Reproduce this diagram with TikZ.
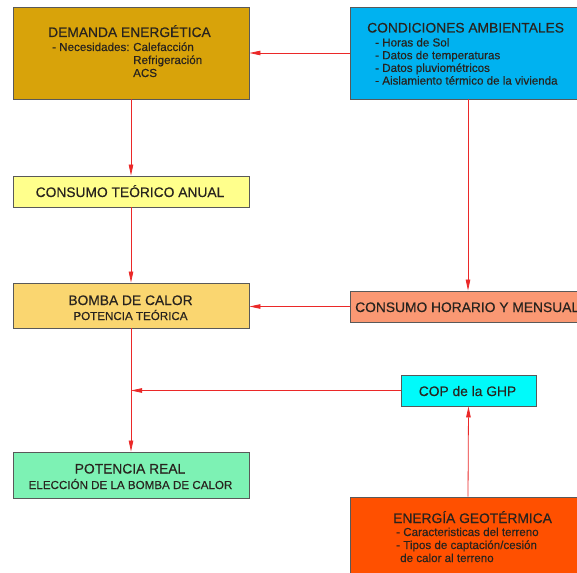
\documentclass[tikz,border=0pt]{standalone}
\usepackage{fontspec}
\setmainfont{Liberation Sans}[FakeBold=0.35]
\usetikzlibrary{arrows.meta,fit}
\definecolor{cdem}{RGB}{216,163,10}
\definecolor{ccond}{RGB}{0,178,240}
\definecolor{ccta}{RGB}{255,255,140}
\definecolor{cbomba}{RGB}{250,214,112}
\definecolor{cchm}{RGB}{250,152,115}
\definecolor{ccop}{RGB}{0,250,250}
\definecolor{cpreal}{RGB}{125,242,180}
\definecolor{cgeo}{RGB}{255,80,0}
\definecolor{cline}{RGB}{235,40,40}
\definecolor{ctext}{RGB}{40,35,30}
\tikzset{
  box/.style={draw=black!65, line width=0.9pt, inner sep=0pt},
  arr/.style={draw=cline, line width=0.8pt, -{Triangle[length=11pt,width=4.5pt]}},
  ttl/.style={inner sep=0pt, text=ctext, font=\fontsize{13.8}{16}\selectfont},
  sub/.style={inner sep=0pt, text=ctext, font=\fontsize{11.6}{13}\selectfont},
}
\begin{document}
\begin{tikzpicture}[x=1pt,y=-1pt]
\useasboundingbox (0,0) rectangle (577,572);
\clip (0,0) rectangle (577,572);
\fill[white] (0,0) rectangle (577,572);
% boxes
\node[box, fill=cdem, fit={(13,7) (249,99)}] (dem) {};
\node[box, fill=ccond, fit={(350,7) (586,99)}] (cond) {};
\node[box, fill=ccta, fit={(13,176) (249,207)}] (cta) {};
\node[box, fill=cbomba, fit={(13,283) (249,328)}] (bomba) {};
\node[box, fill=cchm, fit={(350,291) (586,322)}] (chm) {};
\node[box, fill=ccop, fit={(401,375) (536,406)}] (cop) {};
\node[box, fill=cpreal, fit={(13,452) (249,498)}] (preal) {};
\node[box, fill=cgeo, fit={(350,497) (586,590)}] (geo) {};
% texts
\node[ttl, anchor=base west] (t1) at (48,37) {DEMANDA ENERGÉTICA};
\node[sub, anchor=base west] (t1a) at (52,51) {- Necesidades:};
\node[sub, anchor=base west] (t1b) at (133,51) {Calefacción};
\node[sub, anchor=base west] (t1c) at (133,64) {Refrigeración};
\node[sub, anchor=base west] (t1d) at (133,77) {ACS};
\node[ttl, anchor=base west] (t2) at (367,32.5) {CONDICIONES AMBIENTALES};
\node[sub, anchor=base west] (t2a) at (375,46.5) {- Horas de Sol};
\node[sub, anchor=base west] (t2b) at (375,59.2) {- Datos de temperaturas};
\node[sub, anchor=base west] (t2c) at (375,71.9) {- Datos pluviométricos};
\node[sub, anchor=base west] (t2d) at (375,84.6) {- Aislamiento térmico de la vivienda};
\node[ttl, anchor=base] (t3) at (130,197) {CONSUMO TEÓRICO ANUAL};
\node[ttl, anchor=base] (t4) at (130.5,305) {BOMBA DE CALOR};
\node[sub, anchor=base] (t4a) at (130.5,320) {POTENCIA TEÓRICA};
\node[ttl, anchor=base west] (t5) at (355,312) {CONSUMO HORARIO Y MENSUAL};
\node[ttl, anchor=base] (t6) at (467.5,396) {COP de la GHP};
\node[ttl, anchor=base] (t7) at (130,473.5) {POTENCIA REAL};
\node[sub, anchor=base] (t7a) at (130.5,489) {ELECCIÓN DE LA BOMBA DE CALOR};
\node[ttl, anchor=base west] (t8) at (393,523) {ENERGÍA GEOTÉRMICA};
\node[sub, anchor=base west] (t8a) at (396,536) {- Caracteristicas del terreno};
\node[sub, anchor=base west] (t8b) at (396,549) {- Tipos de captación/cesión};
\node[sub, anchor=base west] (t8c) at (400,562) {de calor al terreno};
% connectors
\draw[arr] (cond.west) -- (dem.east);
\draw[arr] (dem.south) -- (cta.north);
\draw[arr] (cta.south) -- (bomba.north);
\draw[arr] (cond.south) -- (chm.north);
\draw[arr] (chm.west) -- (chm.west -| bomba.east);
\draw[arr] (bomba.south) -- (preal.north);
\draw[arr] (cop.west) -- (cop.west -| bomba.south);
\draw[arr] (geo.north) -- (cop.south);
\end{tikzpicture}
\end{document}
